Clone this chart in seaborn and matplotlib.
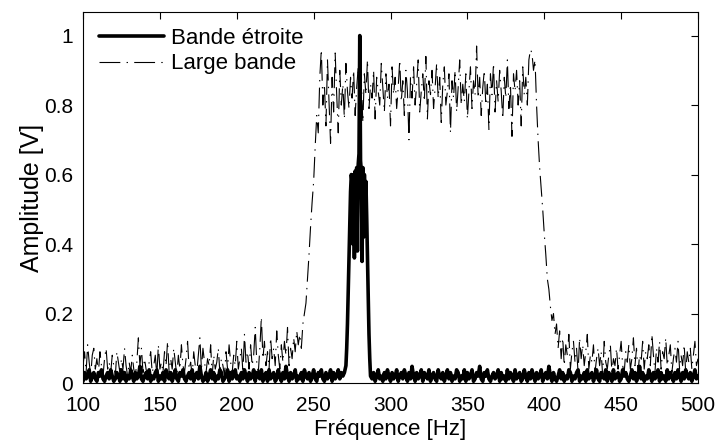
import numpy as np
import pandas as pd
import matplotlib
matplotlib.use("Agg")
import matplotlib.pyplot as plt
import seaborn as sns

# ---------------- data ----------------
# Large bande (1 Hz step, 100..500 Hz)
bb_low = [  # 100..243 Hz
    0.05,0.09,0.03,0.11,0.06,0.02,0.08,0.10,0.04,0.07,0.03,0.09,0.05,0.02,0.07,0.10,0.04,0.06,0.03,0.08,
    0.05,0.02,0.09,0.06,0.03,0.07,0.04,0.10,0.05,0.02,0.06,0.03,0.08,0.04,0.02,0.06,0.13,0.05,0.10,0.03,
    0.07,0.04,0.02,0.06,0.09,0.03,0.05,0.08,0.02,0.11,0.04,0.06,0.03,0.09,0.05,0.12,0.03,0.07,0.04,0.10,
    0.06,0.02,0.08,0.04,0.11,0.05,0.03,0.07,0.12,0.04,0.06,0.02,0.09,0.05,0.03,0.08,0.13,0.04,0.10,0.06,
    0.03,0.07,0.05,0.11,0.02,0.08,0.04,0.06,0.10,0.03,0.07,0.05,0.02,0.09,0.04,0.11,0.06,0.03,0.08,0.05,
    0.12,0.04,0.07,0.10,0.03,0.14,0.06,0.09,0.04,0.11,0.05,0.08,0.16,0.06,0.03,0.10,0.19,0.07,0.12,0.05,
    0.09,0.04,0.13,0.07,0.10,0.05,0.15,0.08,0.04,0.11,0.06,0.12,0.08,0.16,0.05,0.10,0.07,0.13,0.09,0.15,
    0.11,0.14,0.10,0.17]
bb_rise = [0.20,0.23,0.30,0.37,0.45,0.52,0.58,0.68,0.77,0.72,0.88,0.96,0.80]  # 244..256 Hz
bb_top = [  # 257..391 Hz
    0.86,0.74,0.93,0.81,0.69,0.88,0.78,0.95,0.83,0.72,0.90,0.80,0.86,0.76,0.92,0.84,0.79,0.88,0.82,0.90,
    0.77,0.85,0.91,0.80,0.87,0.75,0.89,0.83,0.93,0.79,0.86,0.82,0.90,0.76,0.88,0.84,0.80,0.92,0.85,0.78,
    0.89,0.82,0.86,0.74,0.91,0.83,0.88,0.79,0.85,0.93,0.81,0.87,0.77,0.90,0.84,0.70,0.88,0.82,0.91,0.80,
    0.86,0.93,0.78,0.84,0.89,0.81,0.94,0.76,0.87,0.83,0.90,0.79,0.85,0.92,0.82,0.88,0.75,0.86,0.91,0.80,
    0.84,0.89,0.72,0.87,0.82,0.90,0.78,0.85,0.93,0.80,0.86,0.81,0.89,0.76,0.84,0.91,0.79,0.87,0.83,0.97,
    0.82,0.88,0.77,0.85,0.90,0.80,0.86,0.73,0.89,0.83,0.92,0.78,0.87,0.81,0.90,0.84,0.76,0.88,0.82,0.93,
    0.79,0.86,0.71,0.89,0.84,0.90,0.80,0.87,0.74,0.91,0.83,0.88,0.80,0.93,0.96]
bb_fall = [0.95,0.90,0.93,0.80,0.70,0.62,0.56,0.50,0.43,0.37,0.30,0.27,0.22,0.18,0.20,0.14,0.17]  # 392..408 Hz
bb_tail = [  # 409..500 Hz
    0.10,0.15,0.07,0.13,0.05,0.11,0.08,0.14,0.04,0.09,0.12,0.06,0.10,0.03,0.13,0.07,0.11,0.05,0.09,0.14,
    0.04,0.08,0.06,0.11,0.03,0.07,0.10,0.05,0.09,0.02,0.12,0.06,0.04,0.08,0.11,0.03,0.07,0.05,0.10,0.04,
    0.08,0.12,0.05,0.03,0.09,0.06,0.11,0.04,0.07,0.13,0.05,0.10,0.03,0.08,0.06,0.12,0.04,0.09,0.07,0.11,
    0.05,0.14,0.08,0.03,0.10,0.06,0.12,0.04,0.09,0.07,0.13,0.05,0.08,0.11,0.03,0.07,0.10,0.06,0.12,0.04,
    0.08,0.05,0.11,0.03,0.09,0.06,0.10,0.04,0.08,0.12,0.05,0.07]

# Bande étroite
nb_left = [  # 100..270 Hz, 1 Hz step
    0.005,0.03,0.012,0.02,0.038,0.005,0.02,0.03,0.012,0.005,0.03,0.02,0.038,0.012,0.005,0.02,0.03,0.012,0.038,0.02,
    0.005,0.012,0.03,0.02,0.005,0.038,0.012,0.03,0.005,0.02,0.012,0.038,0.02,0.005,0.03,0.012,0.02,0.048,0.012,0.005,
    0.02,0.03,0.012,0.038,0.005,0.02,0.012,0.03,0.038,0.005,0.02,0.012,0.03,0.005,0.038,0.02,0.012,0.03,0.005,0.02,
    0.038,0.012,0.005,0.03,0.02,0.038,0.012,0.005,0.02,0.03,0.012,0.038,0.005,0.02,0.03,0.012,0.048,0.02,0.005,0.012,
    0.03,0.005,0.02,0.038,0.012,0.03,0.005,0.02,0.012,0.038,0.03,0.005,0.012,0.02,0.038,0.005,0.03,0.012,0.02,0.038,
    0.012,0.02,0.005,0.03,0.012,0.038,0.02,0.005,0.03,0.012,0.02,0.038,0.005,0.03,0.02,0.012,0.038,0.005,0.02,0.03,
    0.005,0.038,0.012,0.02,0.03,0.005,0.012,0.038,0.02,0.005,0.03,0.012,0.048,0.02,0.005,0.03,0.012,0.02,0.038,0.005,
    0.02,0.012,0.03,0.005,0.038,0.02,0.012,0.03,0.005,0.02,0.038,0.012,0.005,0.03,0.02,0.038,0.012,0.005,0.03,0.012,
    0.02,0.038,0.005,0.03,0.012,0.02,0.038,0.012,0.03,0.02,0.03]
nb_peak = [  # 271..287 Hz, 0.5 Hz step
    0.05,0.10,0.17,0.26,0.36,0.46,0.55,0.60,0.58,0.40,0.60,0.36,0.61,0.48,0.62,0.38,0.63,
    0.66,1.00,0.64,0.61,0.35,0.62,0.42,0.60,0.52,0.58,0.48,0.36,0.25,0.14,0.07,0.02]
nb_right = [  # 288..500 Hz, 1 Hz step
    0.012,0.03,0.005,0.02,0.038,0.012,0.02,0.005,0.03,0.012,0.038,0.02,0.005,0.03,0.012,0.02,0.038,0.005,0.02,0.03,
    0.012,0.038,0.02,0.005,0.03,0.012,0.048,0.02,0.005,0.03,0.012,0.02,0.038,0.005,0.03,0.02,0.012,0.038,0.005,0.02,
    0.03,0.012,0.005,0.038,0.02,0.012,0.03,0.005,0.02,0.038,0.012,0.03,0.005,0.02,0.012,0.038,0.03,0.005,0.02,0.012,
    0.038,0.005,0.03,0.012,0.02,0.038,0.005,0.012,0.03,0.02,0.048,0.012,0.005,0.03,0.02,0.038,0.012,0.005,0.02,0.03,
    0.012,0.02,0.038,0.005,0.03,0.012,0.02,0.005,0.038,0.012,0.03,0.02,0.005,0.038,0.012,0.02,0.03,0.005,0.012,0.038,
    0.02,0.005,0.03,0.012,0.038,0.02,0.005,0.03,0.012,0.02,0.038,0.005,0.02,0.03,0.012,0.048,0.02,0.005,0.03,0.012,
    0.005,0.02,0.038,0.012,0.03,0.005,0.02,0.012,0.038,0.03,0.005,0.02,0.012,0.03,0.038,0.005,0.02,0.012,0.03,0.005,
    0.038,0.012,0.02,0.03,0.005,0.02,0.038,0.012,0.005,0.03,0.02,0.012,0.038,0.005,0.03,0.02,0.005,0.038,0.012,0.02,
    0.03,0.005,0.012,0.038,0.02,0.03,0.012,0.005,0.02,0.038,0.012,0.03,0.005,0.02,0.048,0.012,0.03,0.005,0.02,0.012,
    0.038,0.02,0.005,0.03,0.012,0.02,0.038,0.005,0.03,0.012,0.02,0.005,0.038,0.012,0.03,0.02,0.005,0.03,0.012,0.038,
    0.02,0.005,0.03,0.012,0.038,0.02,0.012,0.03,0.005,0.02,0.038,0.012,0.02]

x_ticks = [100, 150, 200, 250, 300, 350, 400, 450, 500]
y_ticks = [0, 0.2, 0.4, 0.6, 0.8, 1]
y_ticklabels = ["0", "0.2", "0.4", "0.6", "0.8", "1"]

# ---------------- frames ----------------
bb_vals = bb_low + bb_rise + bb_top + bb_fall + bb_tail
df_bb = pd.DataFrame({"f": 100 + np.arange(len(bb_vals)), "a": bb_vals})
nb_f = np.concatenate([100 + np.arange(len(nb_left)),
                       271 + 0.5 * np.arange(len(nb_peak)),
                       288 + np.arange(len(nb_right))])
df_nb = pd.DataFrame({"f": nb_f, "a": nb_left + nb_peak + nb_right})

# ---------------- plot ----------------
sns.set_style("white")
plt.rcParams["font.family"] = ["Liberation Sans", "DejaVu Sans"]
plt.rcParams["lines.scale_dashes"] = False
plt.rcParams["text.color"] = "black"
plt.rcParams["axes.labelcolor"] = "black"

fig = plt.figure(figsize=(7.17, 4.43), dpi=100)
ax = fig.add_axes([0.1158, 0.1354, 0.8577, 0.8368])

sns.lineplot(data=df_bb, x="f", y="a", ax=ax, color="black", linewidth=0.8,
             linestyle=(0, (15, 4.5, 1, 4.5)), label="Large bande", errorbar=None)
sns.lineplot(data=df_nb, x="f", y="a", ax=ax, color="black", linewidth=2.6,
             label="Bande étroite", errorbar=None)

ax.set_xlim(100, 500)
ax.set_ylim(0, 1.067)
ax.set_xticks(x_ticks)
ax.set_xticklabels([str(t) for t in x_ticks])
ax.set_yticks(y_ticks)
ax.set_yticklabels(y_ticklabels)
ax.tick_params(direction="in", top=True, right=True, length=5, width=0.8,
               labelsize=15, colors="black")
ax.tick_params(axis="x", pad=9)
ax.tick_params(axis="y", pad=7)
for s in ax.spines.values():
    s.set_color("black")
    s.set_linewidth(0.8)
ax.set_xlabel("Fréquence [Hz]", fontsize=16, labelpad=3)
ax.set_ylabel("Amplitude [V]", fontsize=18, labelpad=0)

h, l = ax.get_legend_handles_labels()
ax.legend([h[1], h[0]], [l[1], l[0]], loc="upper left", frameon=False,
          fontsize=16, handlelength=2.95, handletextpad=0.3, labelspacing=0.2,
          borderaxespad=0.4, borderpad=0.3)

fig.savefig("out.png", dpi=100)
